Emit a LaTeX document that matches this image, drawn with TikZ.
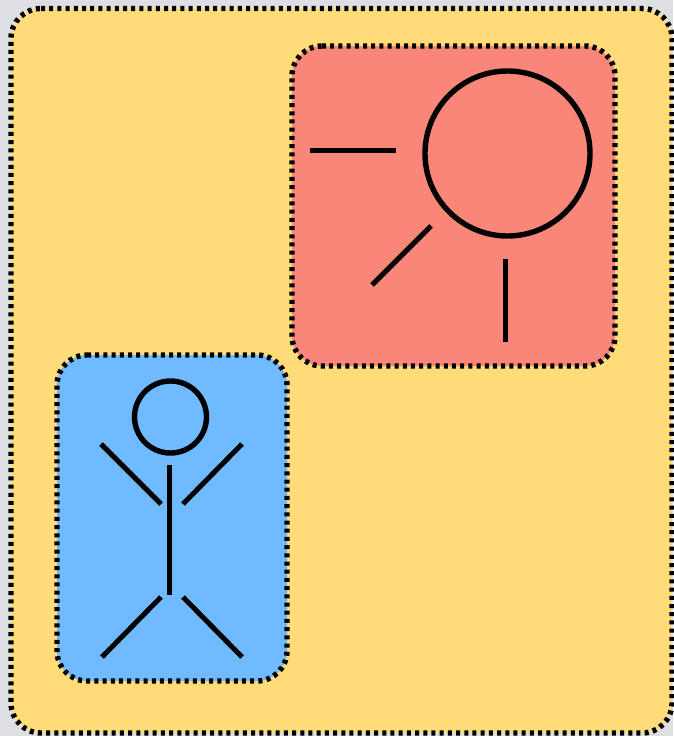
\documentclass[tikz,border=0pt]{standalone}
\definecolor{pagegray}{HTML}{DEDFE3}
\definecolor{sandfill}{HTML}{FFDB7A}
\definecolor{salmonfill}{HTML}{F98779}
\definecolor{skyfill}{HTML}{70BAFF}
\tikzset{
  panel/.style={draw=black,line width=5.4pt,dash pattern=on 4pt off 4.2pt},
  figure line/.style={draw=black,line width=5pt},
  figure thick/.style={draw=black,line width=5.4pt}
}
% #1 fill, #2 left, #3 top, #4 right, #5 bottom; drawn clockwise from the top left
\newcommand{\panelbox}[5]{%
  \path[panel,fill=#1]
    (#2+30,#3) -- (#4-30,#3) arc[start angle=90,end angle=0,radius=30pt]
    -- (#4,#5-30) arc[start angle=0,end angle=-90,radius=30pt]
    -- (#2+30,#5) arc[start angle=270,end angle=180,radius=30pt]
    -- (#2,#3+30) arc[start angle=180,end angle=90,radius=30pt] -- cycle;}
\begin{document}
\begin{tikzpicture}[x=1pt,y=-1pt]
\useasboundingbox[fill=pagegray] (0,0) rectangle (673,736);
\panelbox{sandfill}{11}{8.5}{672}{733}
\panelbox{salmonfill}{292}{46}{615}{366}
\panelbox{skyfill}{57}{355}{287}{681}
% sun
\coordinate (sunc) at (507.5,153.5);
\draw[figure thick] (sunc) circle[radius=82.5pt];
\draw[figure line] (310,150) -- (396,150);
\draw[figure line] (431,226) -- (372,285);
\draw[figure line] (505.5,259) -- (505.5,342);
% person
\coordinate (head) at (170.5,417);
\draw[figure thick] (head) circle[radius=36pt];
\draw[figure line] (169,465) -- (169,595);
\draw[figure line] (101,444) -- (161,504);
\draw[figure line] (242,444) -- (183,504);
\draw[figure line] (161,597) -- (102,657);
\draw[figure line] (183,597) -- (242,657);
\end{tikzpicture}
\end{document}
